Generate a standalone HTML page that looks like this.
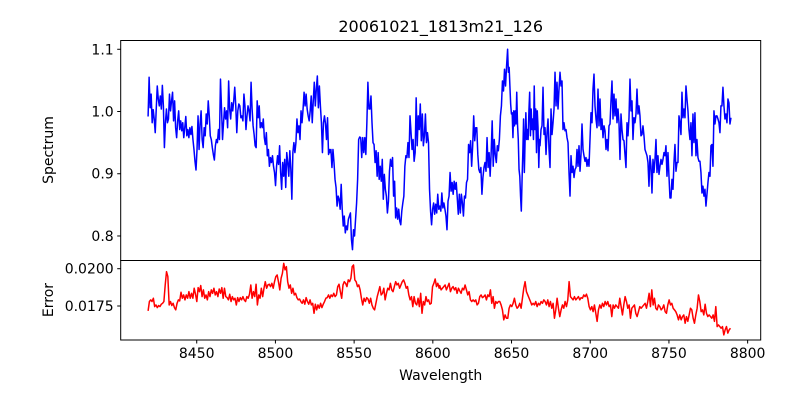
<!DOCTYPE html>
<html><head><meta charset="utf-8"><style>
body{margin:0;background:#fff;}
svg text{font-family:"DejaVu Sans","Liberation Sans",sans-serif;fill:#000;}
</style></head><body>
<svg id="chart" width="800" height="400" xmlns="http://www.w3.org/2000/svg">
<rect width="800" height="400" fill="#fff"/>
<text x="440.7" y="32" font-size="16" text-anchor="middle">20061021_1813m21_126</text>
<g id="g"></g>
</svg>
<script>
const xTicks=[8450,8500,8550,8600,8650,8700,8750,8800];
const specTicks=[0.8,0.9,1.0,1.1];
const specTickLabels=["0.8","0.9","1.0","1.1"];
const errTicks=[0.0175,0.0200];
const errTickLabels=["0.0175","0.0200"];
const specRangeA=[8419.1,8534.4], specRangeB1=[8534.6,8647.5], specRangeB2=[8648.0,8667.8], specRangeC=[8668.1,8789.4];
const spectrumA=[.992,1.055,1.006,1.028,.982,1.003,.988,.966,1.004,1.041,1.020,1.009,1.025,1.004,1.042,1.009,.942,.982,1.004,.982,.988,1.028,1.001,1.017,1.031,.985,1.017,.974,.958,.985,1.001,.971,.985,.969,.982,.958,.974,.992,.961,.971,.958,.974,.963,.976,.955,.939,.920,.906,.939,.993,.939,.980,1.001,.955,.942,.974,.961,.996,.980,1.017,.993,.961,.955,.942,.931,.922,.945,.955,.950,.971,.955,1.052,1.006,.955,.982,1.006,.988,1.001,.974,1.049,1.004,.988,1.014,1.001,1.017,1.039,1.009,.966,1.001,1.012,1.009,.990,.993,.985,1.028,1.009,.971,.993,1.009,1.001,.985,1.047,1.004,.977,.963,.945,.942,1.017,.990,1.009,.974,.982,.974,.988,.958,.947,.966,.929,.939,.912,.926,.918,.929,.912,.902,.881,.912,.929,.915,.945,.902,.875,.918,.896,.923,.878,.934,.918,.896,.937,.907,.859,.934,.950,.934,.950,.988,.966,.977,.955,1.001,.982,1.004,1.031,1.009,1.028,1.004,.993,.985,1.001,1.025,.982,1.017,1.047,1.009,1.036,1.057,1.006,1.041,1.009,.982,.934,.982,.993,.980,.955,.990,.931,.939];
const spectrumB1=[.934,.939,.910,.939,.918,.891,.878,.848,.864,.859,.843,.883,.843,.816,.832,.805,.816,.810,.827,.832,.837,.794,.778,.810,.800,.827,.853,.891,.955,.959,.958,.926,.958,.934,.958,.931,.982,1.047,1.004,1.004,1.025,.982,.950,.947,.918,.937,.896,.934,.891,.912,.888,.923,.859,.899,.875,.864,.837,.856,.904,.923,.912,.926,.864,.888,.829,.845,.827,.843,.824,.818,.840,.853,.864,.912,.929,.926,.950,.926,.993,.966,.939,.955,.920,.934,1.022,.945,.993,.971,1.012,.953,.996,.945,.961,.996,.950,.966,.950,.875,.840,.818,.843,.853,.835,.851,.837,.867,.843,.848,.840,.869,.845,.853,.843,.832,.810,.856,.864,.902,.872,.886,.867,.888,.875,.886,.861,.835,.867,.837,.867,.853,.832,.864,.861,.886,.891,.947,.934,.953,.912,.945,.993,.953,.974,.974,.931,.907,.902,.910,.867,.894,.910,.918,.904,.958,.910,.934,.896,.934,.985,.912,.955,.931,.918,.945,.937,.955,.993,1.009,1.049,1.033,1.068,1.041,1.073,1.100];
const spectrumB2=[1.063,1.071,1.041,1.012,.996,.998,.958,1.001,.977,1.001,.980,1.031,.980,.955,.907,.896,.864,.840,.891,.934,.988,.902,.955,.998,.955,.971,.955,1.001,1.031,.961,1.004,.971,.988,.955,1.041,.971,1.004,.934,1.001,.974,.910,.955];
const spectrumC=[.945,.971,.977,1.039,.963,.974,.931,.966,.988,.939,.910,1.004,.963,.982,1.004,1.063,1.009,1.047,1.004,1.036,1.063,1.041,1.049,.971,.982,.969,.971,.958,.950,.902,.864,.929,.902,.912,.894,.907,.910,.939,.912,.945,.904,.931,.980,.939,.929,.920,.926,.912,.923,.912,.955,.998,.982,1.036,1.060,1.009,.988,.974,1.036,.977,1.020,.971,.988,.958,.977,.969,.939,.955,.937,.977,.980,1.017,1.049,.988,1.028,.993,1.020,.982,1.004,.982,.923,.996,.971,.955,.953,.931,.910,.982,.961,.990,1.052,1.001,1.017,.955,.990,.982,.996,1.036,.996,1.009,.993,.961,.963,.977,.961,.939,.934,.929,.918,.880,.929,.912,.869,.923,.902,.923,.955,.902,.929,.899,.912,.923,.915,.923,.934,.929,.945,.896,.934,.896,.861,.861,.891,.875,.918,.947,.904,.918,.918,.993,.982,.963,1.031,.990,1.004,.990,1.041,1.020,1.001,.971,.955,.982,.929,.996,.950,.998,.929,.955,.926,.920,.920,.902,.869,.880,.864,.875,.848,.867,.886,.902,.896,.945,.947,.912,1.001,.980,.993,.993,.988,.982,.966,1.009,1.009,1.039,1.009,.988,.996,.982,1.020,1.014,.980,.990];
const errRangeA=[8419.1,8604.0], errRangeB=[8604.4,8789.1];
const errorA=[.01717,.01780,.01791,.01780,.01802,.01746,.01757,.01739,.01753,.01746,.01762,.01768,.01780,.01891,.01980,.01947,.01757,.01780,.01753,.01768,.01739,.01724,.01768,.01791,.01784,.01842,.01802,.01824,.01791,.01824,.01802,.01846,.01802,.01835,.01802,.01869,.01829,.01780,.01873,.01846,.01887,.01813,.01858,.01802,.01824,.01791,.01846,.01813,.01858,.01835,.01869,.01824,.01846,.01813,.01864,.01835,.01873,.01802,.01869,.01813,.01806,.01791,.01829,.01780,.01813,.01791,.01802,.01757,.01806,.01780,.01806,.01791,.01813,.01791,.01780,.01813,.01802,.01829,.01891,.01802,.01846,.01813,.01896,.01757,.01824,.01802,.01869,.01813,.01869,.01913,.01869,.01891,.01896,.01880,.01902,.01869,.01913,.01947,.01958,.01913,.01858,.01936,.01969,.02036,.01992,.02014,.01913,.01869,.01891,.01835,.01869,.01824,.01835,.01806,.01791,.01797,.01780,.01768,.01791,.01762,.01806,.01780,.01762,.01791,.01757,.01768,.01701,.01762,.01724,.01757,.01735,.01768,.01739,.01762,.01780,.01802,.01806,.01824,.01802,.01824,.01813,.01835,.01813,.01824,.01880,.01896,.01846,.01802,.01891,.01913,.01902,.01880,.01925,.01913,.01936,.02014,.02025,.01925,.01913,.01880,.01891,.01858,.01802,.01757,.01802,.01780,.01806,.01797,.01768,.01802,.01757,.01735,.01724,.01768,.01813,.01846,.01880,.01824,.01835,.01869,.01791,.01835,.01869,.01858,.01902,.01858,.01846,.01880,.01913,.01891,.01902,.01869,.01891,.01913,.01925,.01902,.01869,.01880,.01824,.01791,.01813,.01746,.01813,.01768,.01757,.01802,.01746,.01835,.01701,.01780,.01757,.01813,.01780,.01791,.01762,.01768,.01880,.01902,.01931,.01880,.01902,.01869];
const errorB=[.01887,.01858,.01869,.01880,.01891,.01858,.01880,.01902,.01846,.01869,.01880,.01858,.01873,.01835,.01869,.01851,.01835,.01869,.01858,.01891,.01858,.01824,.01846,.01791,.01780,.01791,.01780,.01791,.01757,.01768,.01813,.01824,.01806,.01813,.01824,.01791,.01824,.01813,.01858,.01768,.01813,.01735,.01780,.01768,.01780,.01780,.01757,.01724,.01657,.01690,.01668,.01668,.01735,.01757,.01746,.01768,.01802,.01757,.01735,.01746,.01768,.01735,.01802,.01869,.01913,.01846,.01824,.01802,.01780,.01757,.01768,.01757,.01780,.01746,.01768,.01757,.01780,.01768,.01791,.01780,.01757,.01791,.01746,.01780,.01735,.01768,.01668,.01724,.01802,.01735,.01679,.01724,.01757,.01735,.01780,.01746,.01791,.01913,.01813,.01802,.01791,.01813,.01791,.01802,.01813,.01791,.01806,.01802,.01824,.01813,.01829,.01802,.01746,.01724,.01746,.01712,.01757,.01701,.01647,.01724,.01757,.01735,.01768,.01746,.01780,.01757,.01780,.01746,.01757,.01679,.01757,.01735,.01757,.01746,.01735,.01802,.01746,.01690,.01757,.01813,.01780,.01735,.01757,.01668,.01735,.01746,.01757,.01701,.01679,.01712,.01746,.01735,.01746,.01757,.01768,.01735,.01780,.01835,.01746,.01858,.01757,.01802,.01735,.01724,.01757,.01746,.01724,.01735,.01757,.01712,.01701,.01757,.01791,.01757,.01768,.01735,.01724,.01712,.01690,.01657,.01690,.01657,.01679,.01690,.01634,.01679,.01647,.01690,.01735,.01724,.01668,.01634,.01690,.01735,.01824,.01780,.01712,.01724,.01690,.01762,.01701,.01679,.01690,.01679,.01668,.01690,.01647,.01746,.01612,.01623,.01612,.01601,.01612,.01556,.01590,.01612,.01568,.01590,.01601];

const NS="http://www.w3.org/2000/svg";
const g=document.getElementById('g');
const L=120.7,R=760.7,T1=40.5,B1=260.5,T2=260.5,B2=340;
const xMin=8401.7,xMax=8808.3;
const sMin=0.7606,sMax=1.1141, eMin=0.01522,eMax=0.02055;
const xs=v=>L+(v-xMin)/(xMax-xMin)*(R-L);
const ys=v=>B1-(v-sMin)/(sMax-sMin)*(B1-T1);
const ye=v=>B2-(v-eMin)/(eMax-eMin)*(B2-T2);
function mk(tag,attrs){const e=document.createElementNS(NS,tag);for(const k in attrs)e.setAttribute(k,attrs[k]);g.appendChild(e);return e;}
function pts(vals,range){const n=vals.length;return vals.map((v,i)=>[range[0]+(range[1]-range[0])*i/(n-1),v]);}
function series(points,yf,color,name){
  let d='';
  points.forEach((p,i)=>{d+=(i?'L':'M')+xs(p[0]).toFixed(2)+','+yf(p[1]).toFixed(2);});
  const p=mk('path',{d:d,fill:'none',stroke:color,'stroke-width':1.5,'stroke-linejoin':'round'});
  
  
}
series(pts(spectrumA,specRangeA).concat(pts(spectrumB1,specRangeB1),pts(spectrumB2,specRangeB2),pts(spectrumC,specRangeC)),ys,'#0000ff','spectrum-line');
series(pts(errorA,errRangeA).concat(pts(errorB,errRangeB)),ye,'#ff0000','error-line');
const f1=mk('rect',{x:L,y:T1,width:R-L,height:B1-T1,fill:'none',stroke:'#000','stroke-width':1});


const f2=mk('rect',{x:L,y:T2,width:R-L,height:B2-T2,fill:'none',stroke:'#000','stroke-width':1});


xTicks.forEach(v=>{
  const x=xs(v);
  mk('line',{x1:x,x2:x,y1:B2,y2:B2+3.5,stroke:'#000'});
  const t=mk('text',{x:x,y:B2+18,'font-size':14,'text-anchor':'middle'});t.textContent=v;
  
  
});
specTicks.forEach((v,i)=>{
  const y=ys(v);
  mk('line',{x1:L-3.5,x2:L,y1:y,y2:y,stroke:'#000'});
  const t=mk('text',{x:L-7,y:y+5,'font-size':14,'text-anchor':'end'});t.textContent=specTickLabels[i];
  
  
});
errTicks.forEach((v,i)=>{
  const y=ye(v);
  mk('line',{x1:L-3.5,x2:L,y1:y,y2:y,stroke:'#000'});
  const t=mk('text',{x:L-7,y:y+5,'font-size':14,'text-anchor':'end'});t.textContent=errTickLabels[i];
  
  
});
const xl=mk('text',{x:440.7,y:380,'font-size':14,'text-anchor':'middle'});xl.textContent='Wavelength';


const yl1=mk('text',{x:0,y:0,'font-size':14,'text-anchor':'middle',transform:'translate(53,150) rotate(-90)'});yl1.textContent='Spectrum';


const yl2=mk('text',{x:0,y:0,'font-size':14,'text-anchor':'middle',transform:'translate(53,300) rotate(-90)'});yl2.textContent='Error';


</script>
</body></html>
